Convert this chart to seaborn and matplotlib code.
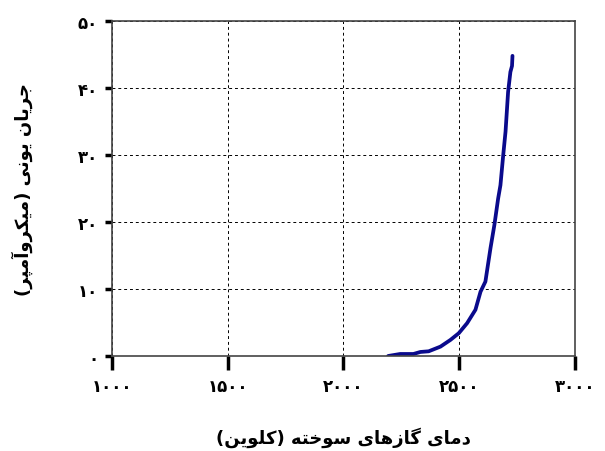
import matplotlib
matplotlib.use("Agg")
import matplotlib.pyplot as plt
import seaborn as sns
import pandas as pd

# burnt gas temperature (K) vs ion current (microampere)
temperature = [2193, 2245, 2302, 2332, 2368, 2419, 2462, 2498, 2534, 2570, 2592,
               2613, 2635, 2652, 2668, 2678, 2690, 2700, 2711, 2721, 2728, 2730]
ion_current = [0.0, 0.3, 0.3, 0.6, 0.7, 1.4, 2.4, 3.4, 4.9, 6.9, 9.6,
               11.1, 16.1, 19.6, 23.5, 25.5, 30.0, 33.5, 39.4, 42.4, 43.3, 44.8]

x_ticks = [1000, 1500, 2000, 2500, 3000]
y_ticks = [0, 10, 20, 30, 40, 50]
x_label = "دمای گازهای سوخته (کلوین)"
y_label = "جریان یونی (میکروآمپر)"

# --- minimal Arabic/Persian shaping (matplotlib draws glyphs unshaped, LTR) ---
# letter: (isolated, final, initial, medial); None => does not join to next letter
FORMS = {
    "ا": (0xFE8D, 0xFE8E, None, None),
    "آ": (0xFE81, 0xFE82, None, None),
    "ب": (0xFE8F, 0xFE90, 0xFE91, 0xFE92),
    "پ": (0xFB56, 0xFB57, 0xFB58, 0xFB59),
    "ت": (0xFE95, 0xFE96, 0xFE97, 0xFE98),
    "ج": (0xFE9D, 0xFE9E, 0xFE9F, 0xFEA0),
    "خ": (0xFEA5, 0xFEA6, 0xFEA7, 0xFEA8),
    "د": (0xFEA9, 0xFEAA, None, None),
    "ر": (0xFEAD, 0xFEAE, None, None),
    "ز": (0xFEAF, 0xFEB0, None, None),
    "س": (0xFEB1, 0xFEB2, 0xFEB3, 0xFEB4),
    "ک": (0xFB8E, 0xFB8F, 0xFB90, 0xFB91),
    "گ": (0xFB92, 0xFB93, 0xFB94, 0xFB95),
    "ل": (0xFEDD, 0xFEDE, 0xFEDF, 0xFEE0),
    "م": (0xFEE1, 0xFEE2, 0xFEE3, 0xFEE4),
    "ن": (0xFEE5, 0xFEE6, 0xFEE7, 0xFEE8),
    "ه": (0xFEE9, 0xFEEA, 0xFEEB, 0xFEEC),
    "و": (0xFEED, 0xFEEE, None, None),
    "ی": (0xFBFC, 0xFBFD, 0xFBFE, 0xFBFF),
}


def shape(text):
    out = []
    for i, ch in enumerate(text):
        if ch not in FORMS:
            out.append(ch)
            continue
        prev = text[i - 1] if i > 0 else ""
        nxt = text[i + 1] if i + 1 < len(text) else ""
        joins_prev = prev in FORMS and FORMS[prev][2] is not None
        joins_next = nxt in FORMS and FORMS[ch][2] is not None
        iso, fin, ini, med = FORMS[ch]
        if joins_prev and joins_next:
            out.append(chr(med))
        elif joins_prev:
            out.append(chr(fin))
        elif joins_next:
            out.append(chr(ini))
        else:
            out.append(chr(iso))
    visual = "".join(reversed(out))
    return visual.translate(str.maketrans("()", ")("))


def fa_digits(n):
    return str(n).translate(str.maketrans("0123456789", "۰۱۲۳۴۵۶۷۸۹"))


sns.set_style("ticks")
plt.rcParams["font.family"] = ["DejaVu Sans"]
plt.rcParams["font.weight"] = "bold"
plt.rcParams["text.color"] = "black"
plt.rcParams["xtick.color"] = "black"
plt.rcParams["ytick.color"] = "black"
plt.rcParams["axes.labelcolor"] = "black"

df = pd.DataFrame({"T": temperature, "I": ion_current})

fig = plt.figure(figsize=(6.05, 4.52), dpi=100)
ax = fig.add_axes([0.1851, 0.2102, 0.7653, 0.7411])

sns.lineplot(data=df, x="T", y="I", sort=False, estimator=None,
             color="#0a0a8c", linewidth=2.7, ax=ax)

ax.set_xlim(1000, 3000)
ax.set_ylim(0, 50)
ax.set_xticks(x_ticks)
ax.set_yticks(y_ticks)
ax.set_xticklabels([fa_digits(v) for v in x_ticks], fontsize=12, fontweight="bold")
ax.set_yticklabels([fa_digits(v) for v in y_ticks], fontsize=12, fontweight="bold")
ax.grid(True, color="black", linestyle=(0, (3, 3)), linewidth=0.7)
ax.tick_params(axis="x", direction="out", length=10, width=2.5, pad=5, colors="black")
ax.tick_params(axis="y", direction="out", length=5, width=2.5, pad=5, colors="black")
for s in ax.spines.values():
    s.set_visible(True)
    s.set_color("#444444")
    s.set_linewidth(1.2)

ax.set_xlabel(shape(x_label), fontsize=13, fontweight="bold", labelpad=23, color="black")
ax.set_ylabel(shape(y_label), fontsize=13, fontweight="bold", labelpad=32, color="black")

fig.savefig("out.png", dpi=100)
